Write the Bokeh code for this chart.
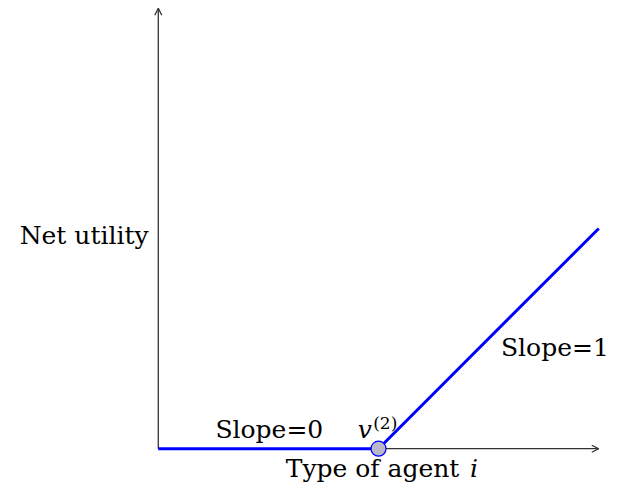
from bokeh.plotting import figure
from bokeh.models import Range1d, Arrow, OpenHead, Label
from bokeh.embed import file_html
from bokeh.resources import INLINE

# data
agent_type = [0, 5, 10]          # type of agent i
net_utility = [0, 0, 5]          # max(0, type - v2)
v2 = 5
x_axis_max = 10
y_axis_max = 10
slope_labels = ["Slope=0", "Slope=1"]

W, H = 613, 485
s = H / 501.0
k = 45.5 * s          # pixels per data unit
ox = 163 * s
oy = 463 * s
p = figure(width=W, height=H, output_backend="svg", toolbar_location=None,
           x_range=Range1d(-ox / k, (W - ox) / k),
           y_range=Range1d((oy - H) / k, oy / k),
           min_border=0)
p.axis.visible = False
p.grid.visible = False
p.outline_line_color = None
p.background_fill_color = "white"
p.border_fill_color = "white"

axis_col = "#333333"
p.add_layout(Arrow(x_start=0, y_start=0, x_end=x_axis_max, y_end=0,
                   line_color=axis_col, line_width=1.3, level="underlay",
                   end=OpenHead(size=7, line_color=axis_col, line_width=1.3)))
p.add_layout(Arrow(x_start=0, y_start=0, x_end=0, y_end=y_axis_max,
                   line_color=axis_col, line_width=1.3, level="underlay",
                   end=OpenHead(size=7, line_color=axis_col, line_width=1.3)))

p.line(agent_type, net_utility, line_color="#0000ff", line_width=3)
p.scatter(x=[v2], y=[0], size=15, fill_color="#b8b8c8", line_color="#0000ff", line_width=1.2)

font = "DejaVu Serif"
fs = "25px"

def lab(x, y, t, align="left", style="normal", size=fs):
    p.add_layout(Label(x=x, y=y, text=t, text_font=font, text_font_size=size,
                       text_align=align, text_baseline="alphabetic",
                       text_font_style=style, text_color="black"))

def px(ix):
    return (ix - 163) / 45.5

def py(iy):
    return (463 - iy) / 45.5

lab(px(153), py(243), "Net utility", align="right")
lab(px(222), py(443), slope_labels[0])
lab(px(517), py(358), slope_labels[1])
lab(px(369), py(443), "v", style="italic")
lab(px(385), py(436), "(2)", size="17px")
lab(px(474), py(483), "Type of agent", align="right")
lab(px(485), py(483), "i", style="italic")

open("out.html", "w").write(file_html(p, INLINE))
